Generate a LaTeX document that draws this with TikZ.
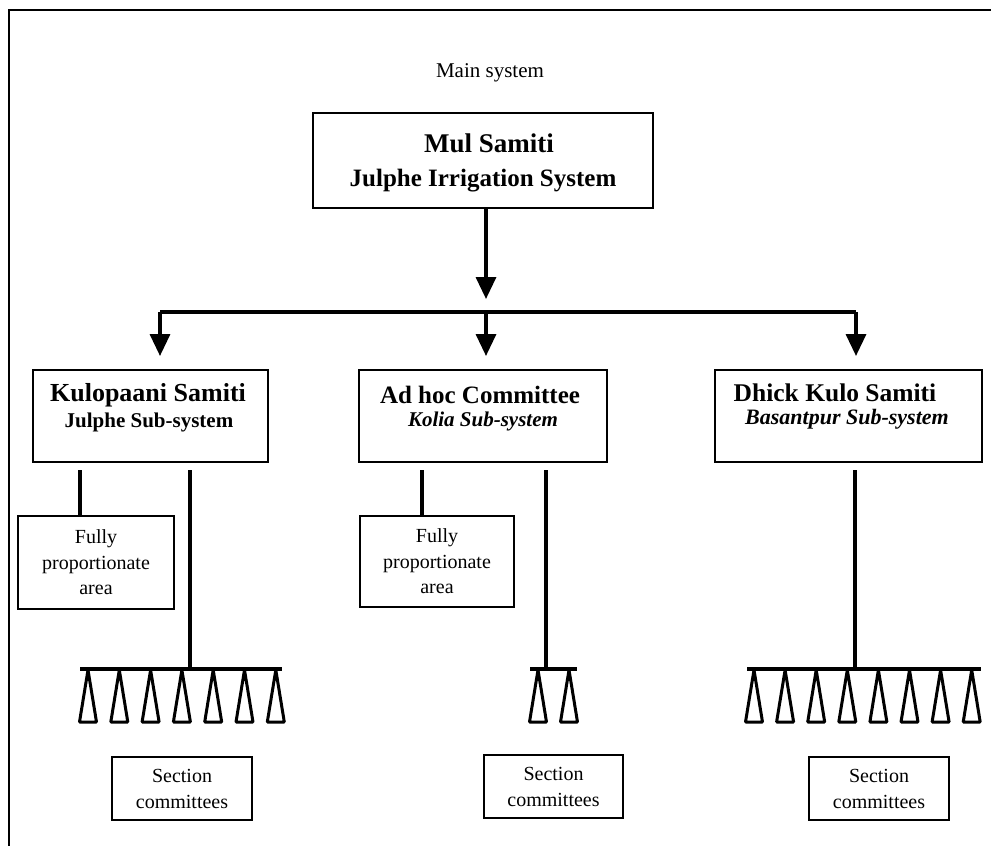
\documentclass[tikz,border=0pt]{standalone}
\usepackage{fontspec}
\setmainfont{Liberation Serif}
\usepackage{tikz}
\usetikzlibrary{positioning, arrows.meta}

\begin{document}
\begin{tikzpicture}[x=1pt,y=-1pt]
	\tikzstyle{box}=[draw=black,line width=2pt,inner sep=0pt]
	\tikzstyle{txt}=[inner sep=0pt,align=center]
	\tikzstyle{link}=[line width=3.4pt]
	\tikzstyle{flow}=[line width=3.4pt,-{Triangle[width=20pt,length=22pt]}]
	\tikzstyle{tri}=[line width=3pt,line join=bevel]
	\useasboundingbox (0,0) rectangle (991,846);
	\draw[line width=2pt] (9,846) -- (9,10) -- (991,10);

	\node[txt,font=\fontsize{21}{24}\selectfont](mainlbl) at (490,73) {Main system};

	% main system
	\node[box,minimum width=340pt,minimum height=95pt](mul) at (483,160.5) {};
	\node[txt,font=\fontsize{27}{30}\selectfont\bfseries](multitle) at (489,143) {Mul Samiti};
	\node[txt,font=\fontsize{25}{28}\selectfont\bfseries](mulsub) at (483,181) {Julphe Irrigation System};

	% sub-systems
	\node[box,minimum width=235pt,minimum height=92pt](kulo) at (150.5,416) {};
	\node[txt,font=\fontsize{26}{28}\selectfont\bfseries](kulotitle) at (148,395) {Kulopaani Samiti};
	\node[txt,font=\fontsize{21}{24}\selectfont\bfseries](kulosub) at (149,422) {Julphe Sub-system};

	\node[box,minimum width=248pt,minimum height=92pt](adhoc) at (483,416) {};
	\node[txt,font=\fontsize{25}{28}\selectfont\bfseries](adhoctitle) at (480,395) {Ad hoc Committee};
	\node[txt,font=\fontsize{21}{24}\selectfont\bfseries\itshape](adhocsub) at (483,421) {Kolia Sub-system};

	\node[box,minimum width=267pt,minimum height=92pt](dhick) at (848.5,416) {};
	\node[txt,font=\fontsize{25.5}{28}\selectfont\bfseries](dhicktitle) at (835,393) {Dhick Kulo Samiti};
	\node[txt,font=\fontsize{22}{24}\selectfont\bfseries\itshape](dhicksub) at (847,419) {Basantpur Sub-system};

	% fully proportionate areas
	\node[box,txt,draw,minimum width=156pt,minimum height=93pt,font=\fontsize{20}{25.5}\selectfont](full1) at (96,562.5) {Fully\\proportionate\\area};
	\node[box,txt,draw,minimum width=154pt,minimum height=91pt,font=\fontsize{20}{25.5}\selectfont](full2) at (437,561.5) {Fully\\proportionate\\area};

	% section committees
	\node[box,txt,draw,minimum width=140pt,minimum height=63pt,font=\fontsize{20}{26}\selectfont](sec1) at (182,788.5) {Section\\committees};
	\node[box,txt,draw,minimum width=139pt,minimum height=63pt,font=\fontsize{20}{26}\selectfont](sec2) at (553.5,786.5) {Section\\committees};
	\node[box,txt,draw,minimum width=140pt,minimum height=63pt,font=\fontsize{20}{26}\selectfont](sec3) at (879,788.5) {Section\\committees};

	% branching arrows
	\coordinate (split) at (486,312);
	\coordinate (splitl) at (160,312);
	\coordinate (splitr) at (856,312);
	\draw[flow,shorten >=13pt] (mul.south -| split) -- (split);
	\draw[link] (splitl) -- (splitr);
	\draw[flow,shorten >=13pt] (splitl) -- (kulo.north -| splitl);
	\draw[flow,shorten >=13pt] (split) -- (adhoc.north -| split);
	\draw[flow,shorten >=13pt] (splitr) -- (dhick.north -| splitr);

	% stems below the sub-system boxes
	\coordinate (kulo1) at (80,470);
	\coordinate (kulo2) at (190,470);
	\coordinate (adhoc1) at (422,470);
	\coordinate (adhoc2) at (546,470);
	\coordinate (dhick1) at (855,470);
	\coordinate (bar1) at (190,669);
	\coordinate (bar2) at (546,669);
	\coordinate (bar3) at (855,669);
	\path[link]
		(kulo1) edge (full1.north -| kulo1)
		(kulo2) edge (bar1)
		(adhoc1) edge (full2.north -| adhoc1)
		(adhoc2) edge (bar2)
		(dhick1) edge (bar3);

	% bars and outlets
	\draw[link] (80,669) -- (282,669);
	\draw[link] (530,669) -- (577,669);
	\draw[link] (747,669) -- (981,669);
	\foreach \x in {88,119.3,150.6,181.9,213.2,244.5,275.8,538,569,754,785.1,816.2,847.3,878.4,909.5,940.6,971.7}
		\draw[tri] (\x-8.5,722) -- (\x,670) -- (\x+8.5,722) -- cycle;
\end{tikzpicture}
\end{document}
